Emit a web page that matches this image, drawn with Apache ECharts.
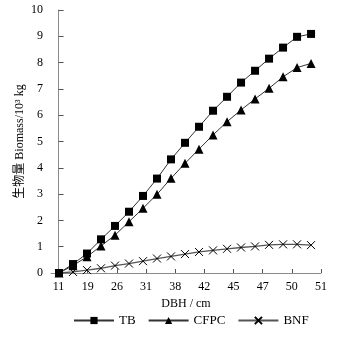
<!DOCTYPE html>
<html>
<head>
<meta charset="utf-8">
<script src="https://cdn.jsdelivr.net/npm/echarts@6/dist/echarts.min.js"></script>
<style>
    html, body { margin: 0; padding: 0; background: #fff; }
    #chart { width: 344px; height: 337px; }
</style>
</head>
<body>
<div id="chart"></div>
<script>
// x轴刻度标签 DBH/cm
var dbhLabels = ['11', '19', '26', '31', '38', '42', '45', '47', '50', '51'];
// 生物量 (10^3 kg)，19个点
var tbData = [0.0, 0.34, 0.74, 1.28, 1.79, 2.33, 2.93, 3.59, 4.32, 4.95, 5.56, 6.17, 6.70, 7.24, 7.69, 8.15, 8.57, 8.98, 9.09];
var cfpcData = [0.0, 0.28, 0.62, 1.03, 1.44, 1.95, 2.46, 2.99, 3.60, 4.17, 4.71, 5.25, 5.75, 6.20, 6.62, 7.02, 7.46, 7.81, 7.97];
var bnfData = [0.0, 0.04, 0.11, 0.18, 0.28, 0.36, 0.45, 0.55, 0.63, 0.72, 0.80, 0.86, 0.92, 0.97, 1.01, 1.07, 1.09, 1.09, 1.06];

var fontFamily = "'Liberation Serif', 'Times New Roman', 'Noto Sans CJK SC', serif";
var axisGrey = '#8a8a8a';
var lineGrey = '#333';

function toPoints(arr) {
    return arr.map(function (v, i) { return [i, v]; });
}

var tickValues = dbhLabels.map(function (s, i) { return i; });

var myChart = echarts.init(document.getElementById('chart'));
var option = {
    animation: false,
    backgroundColor: '#fff',
    textStyle: { fontFamily: fontFamily, color: '#000' },
    grid: { left: 51, right: 23, top: 10, bottom: 64, containLabel: false },
    legend: {
        bottom: 5,
        left: 68,
        itemWidth: 40,
        itemHeight: 9,
        itemGap: 12,
        textStyle: { fontFamily: fontFamily, fontSize: 13, color: '#000' },
        data: ['TB', 'CFPC', 'BNF']
    },
    xAxis: [
        {
            type: 'value',
            min: -0.26,
            max: 9,
            name: 'DBH / cm',
            nameLocation: 'middle',
            nameGap: 25,
            nameMoveOverlap: false,
            nameTextStyle: { fontFamily: fontFamily, fontSize: 12, color: '#000' },
            axisLine: { show: true, lineStyle: { color: axisGrey, width: 1 } },
            axisTick: { show: true, inside: true, length: 4, customValues: tickValues, lineStyle: { color: '#555' } },
            axisLabel: {
                customValues: tickValues,
                margin: 8,
                fontSize: 12,
                color: '#000',
                fontFamily: fontFamily,
                formatter: function (v) { return dbhLabels[Math.round(v)]; }
            },
            splitLine: { show: false }
        },
        {
            type: 'value',
            min: -0.571,
            max: 18.71,
            show: false
        }
    ],
    yAxis: {
        type: 'value',
        min: 0,
        max: 10,
        interval: 1,
        name: '生物量 Biomass/10³ kg',
        nameLocation: 'middle',
        nameGap: 25,
        nameMoveOverlap: false,
        nameTextStyle: { fontFamily: fontFamily, fontSize: 12, color: '#000' },
        axisLine: { show: true, lineStyle: { color: axisGrey, width: 1 } },
        axisTick: { show: true, inside: true, length: 5, lineStyle: { color: '#555' } },
        axisLabel: { margin: 8, fontSize: 12, color: '#000', fontFamily: fontFamily },
        splitLine: { show: false }
    },
    series: [
        {
            name: 'TB',
            type: 'line',
            xAxisIndex: 1,
            data: toPoints(tbData),
            symbol: 'rect',
            symbolSize: 8,
            lineStyle: { color: lineGrey, width: 1 },
            itemStyle: { color: '#000', borderWidth: 0 }
        },
        {
            name: 'CFPC',
            type: 'line',
            xAxisIndex: 1,
            data: toPoints(cfpcData),
            symbol: 'triangle',
            symbolSize: 9,
            lineStyle: { color: lineGrey, width: 1 },
            itemStyle: { color: '#000', borderWidth: 0 }
        },
        {
            name: 'BNF',
            type: 'line',
            xAxisIndex: 1,
            data: toPoints(bnfData),
            symbol: 'path://M0,0L10,10M10,0L0,10',
            symbolSize: 8,
            lineStyle: { color: '#555', width: 1.3 },
            itemStyle: { color: 'none', borderColor: '#000', borderWidth: 1 }
        }
    ]
};
myChart.setOption(option);
</script>
</body>
</html>
